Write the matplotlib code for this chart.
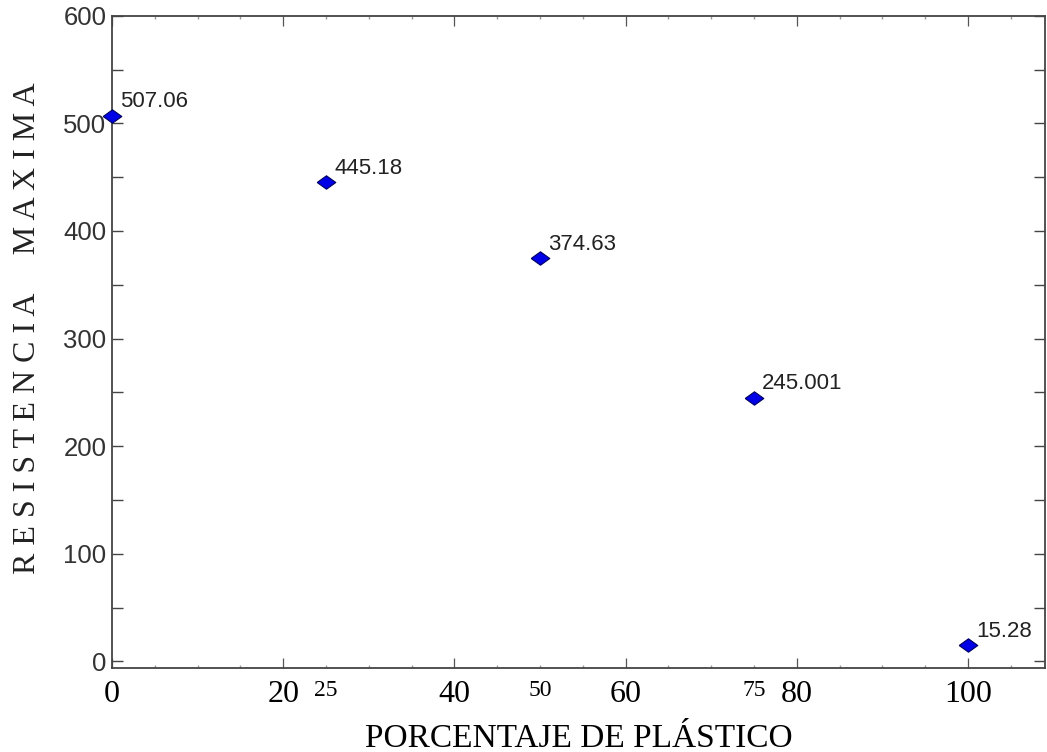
import numpy as np
import matplotlib.pyplot as plt
from matplotlib.ticker import MultipleLocator

# datos
porcentaje = [0, 25, 50, 75, 100]
resistencia = [507.06, 445.18, 374.63, 245.001, 15.28]
etiquetas = ['507.06', '445.18', '374.63', '245.001', '15.28']
x_major = [0, 20, 40, 60, 80, 100]
x_extra = [25, 50, 75]

fig = plt.figure(figsize=(10.47, 7.52), dpi=100)
ax = fig.add_axes([0.107, 0.112, 0.891, 0.867])

# marcador rombo achatado
rombo = [(-1, 0), (0, 0.72), (1, 0), (0, -0.72), (-1, 0)]
ax.scatter(porcentaje, resistencia, marker=rombo, s=180, color='#0000e6',
           edgecolors='#000060', linewidths=0.8, zorder=3, clip_on=False)

for x, y, t in zip(porcentaje, resistencia, etiquetas):
    ax.annotate(t, (x, y), xytext=(6, 6), textcoords='offset points',
                fontsize=16, family='Liberation Sans', color='#222222')

ax.set_xlim(0, 109)
ax.set_ylim(-6, 600)

ax.set_xticks(x_major)
ax.set_xticklabels([str(v) for v in x_major], family='Liberation Serif',
                   fontsize=23)
ax.xaxis.set_minor_locator(MultipleLocator(5))
ax.set_yticks(np.arange(0, 601, 100))
ax.set_yticklabels([str(v) for v in range(0, 601, 100)],
                   family='Liberation Sans', fontsize=18.5, color='#333333')
ax.yaxis.set_minor_locator(MultipleLocator(50))

ax.tick_params(which='both', direction='in', top=True, right=True)
ax.tick_params(axis='x', which='major', length=7, width=0.9, color='#555555', pad=9)
ax.tick_params(axis='x', which='minor', length=2.5, width=1, color='#999999')
ax.tick_params(axis='y', which='major', length=8, width=1, color='#444444', pad=4)
ax.tick_params(axis='y', which='minor', length=8, width=1, color='#444444')

for s in ax.spines.values():
    s.set_color('#444444')
    s.set_linewidth(1.3)

# etiquetas extra 25, 50, 75
for v in x_extra:
    ax.annotate(str(v), (v, 0), xycoords=('data', 'axes fraction'),
                xytext=(0, -9), textcoords='offset points', ha='center',
                va='top', family='Liberation Serif', fontsize=17)

ax.set_xlabel('PORCENTAJE DE PLÁSTICO', family='Liberation Serif', fontsize=24,
              labelpad=10)
fig.text(0.026, 0.563, 'R E S I S T E N C I A     M A X I M A', rotation=90,
         ha='center', va='center', family='Liberation Serif', fontsize=23,
         color='#222222')

fig.savefig('out.png', dpi=100)
